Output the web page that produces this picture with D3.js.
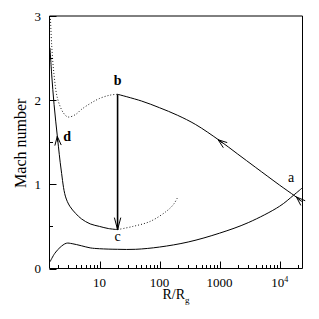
<!DOCTYPE html>
<html>
<head>
<meta charset="utf-8">
<script src="https://cdn.jsdelivr.net/npm/d3@7"></script>
<style>
  html, body { margin: 0; padding: 0; background: #fff; }
  svg { display: block; }
  .lbl { font-family: "Liberation Serif", "DejaVu Serif", serif; fill: #000; }
</style>
</head>
<body>
<div id="chart"></div>
<script>
// lower solid branch (a -> disc, subsonic)
const lowR = [1.5, 1.8, 2.2, 2.8, 3.5, 5, 7, 10, 20, 40, 100, 300, 1000, 3000, 10000, 17000, 24000];
const lowM = [0.08, 0.18, 0.25, 0.30, 0.295, 0.27, 0.245, 0.235, 0.228, 0.228, 0.255, 0.315, 0.42, 0.545, 0.74, 0.87, 0.96];

// upper solid branch a -> b
const upR = [20, 50, 100, 200, 400, 1000, 2000, 4000, 10000, 18000, 24000];
const upM = [2.07, 1.99, 1.91, 1.82, 1.71, 1.52, 1.36, 1.20, 0.99, 0.86, 0.79];

// dotted continuation left of b
const dotUpR = [1.52, 1.6, 1.75, 2, 2.5, 3, 4, 5, 7, 10, 15, 20];
const dotUpM = [3.0, 2.65, 2.3, 2.02, 1.85, 1.80, 1.83, 1.89, 1.96, 2.02, 2.06, 2.07];

// branch c -> d
const dR = [1.5, 1.6, 1.75, 2, 2.3, 2.7, 3.2, 4, 5, 7, 10, 14, 20];
const dM = [2.62, 2.3, 1.95, 1.55, 1.17, 0.86, 0.74, 0.655, 0.59, 0.53, 0.50, 0.475, 0.462];

// dotted continuation right of c
const dotCR = [20, 36, 70, 130, 170, 200];
const dotCM = [0.462, 0.50, 0.56, 0.68, 0.76, 0.845];

// shock b -> c
const shockR = [20, 20];
const shockM = [2.07, 0.462];

// arrows: tip and a point behind it
const arrowTipR = [20, 1.98, 944, 19000];
const arrowTipM = [0.462, 1.57, 1.53, 0.85];
const arrowBackR = [20, 2.1, 1300, 23000];
const arrowBackM = [1.0, 1.36, 1.455, 0.795];

const pointLabels = ["a", "b", "c", "d"];
const labelR = [15500, 20, 20, 2.9];
const labelM = [1.03, 2.18, 0.33, 1.52];

const xMajor = [10, 100, 1000, 10000];
const yMajor = [0, 1, 2, 3];
const yMinor = [0.5, 1.5, 2.5];

const W = 319, H = 319;
const pLeft = 49.5, pRight = 302.5, pTop = 16, pBottom = 268.5;

const svg = d3.select("#chart").append("svg")
    .attr("width", W)
    .attr("height", H);

const x = d3.scaleLog().domain([1.47, 2.4e4]).range([pLeft, pRight]);
const y = d3.scaleLinear().domain([0, 3]).range([pBottom, pTop]);

const line = d3.line()
    .x(d => x(d[0]))
    .y(d => y(d[1]))
    .curve(d3.curveCatmullRom.alpha(0.5));

const zip = (a, b) => a.map((v, i) => [v, b[i]]);

// frame
svg.append("line").attr("x1", pLeft).attr("x2", pRight).attr("y1", 16).attr("y2", 16)
    .attr("stroke", "#000").attr("stroke-width", 1);
svg.append("line").attr("x1", pLeft).attr("x2", pLeft).attr("y1", pTop).attr("y2", pBottom)
    .attr("stroke", "#000");
svg.append("line").attr("x1", pRight).attr("x2", pRight).attr("y1", pTop).attr("y2", pBottom)
    .attr("stroke", "#000");
svg.append("line").attr("x1", pLeft).attr("x2", pRight).attr("y1", pBottom).attr("y2", pBottom)
    .attr("stroke", "#000");

// x ticks
const isMajor = v => Math.abs(Math.log10(v) - Math.round(Math.log10(v))) < 1e-6;
x.ticks().filter(v => v >= 1.47 && v <= 2.4e4).forEach(v => {
    const len = isMajor(v) ? 7 : 3.5;
    const px = Math.round(x(v)) + 0.5;
    svg.append("line")
        .attr("x1", px).attr("x2", px)
        .attr("y1", pBottom).attr("y2", pBottom - len)
        .attr("stroke", "#000");
});

xMajor.forEach(v => {
    const t = svg.append("text").attr("class", "lbl")
        .attr("x", x(v)).attr("y", 287)
        .attr("text-anchor", "middle")
        .style("font-size", "13px");
    if (v === 10000) {
        t.append("tspan").text("10");
        t.append("tspan").attr("dy", -5).style("font-size", "8px").text("4");
    } else {
        t.text(String(v));
    }
});

// y ticks
yMajor.forEach(v => {
    const py = Math.round(y(v)) + 0.5;
    svg.append("line").attr("x1", pLeft).attr("x2", pLeft + 7)
        .attr("y1", py).attr("y2", py).attr("stroke", "#000");
    svg.append("text").attr("class", "lbl")
        .attr("x", 41).attr("y", y(v) + 4.5)
        .attr("text-anchor", "end")
        .style("font-size", "13px")
        .text(v);
});
yMinor.forEach(v => {
    const py = Math.round(y(v)) + 0.5;
    svg.append("line").attr("x1", pLeft).attr("x2", pLeft + 3.5)
        .attr("y1", py).attr("y2", py).attr("stroke", "#000");
});

// axis titles
const xt = svg.append("text").attr("class", "lbl")
    .attr("x", (pLeft + pRight) / 2).attr("y", 299)
    .attr("text-anchor", "middle")
    .style("font-size", "14px");
xt.append("tspan").text("R/R");
xt.append("tspan").attr("dy", 4).style("font-size", "9px").text("g");

svg.append("text").attr("class", "lbl")
    .attr("transform", `translate(26,${(pTop + pBottom) / 2 + 1}) rotate(-90)`)
    .attr("text-anchor", "middle")
    .style("font-size", "16px")
    .text("Mach number");

// curves
const g = svg.append("g").attr("fill", "none");

g.append("path").attr("d", line(zip(lowR, lowM)))
    .attr("stroke", "#000").attr("stroke-width", 1);
g.append("path").attr("d", line(zip(upR, upM)))
    .attr("stroke", "#000").attr("stroke-width", 1);
g.append("path").attr("d", line(zip(dR, dM)))
    .attr("stroke", "#000").attr("stroke-width", 1);
g.append("path").attr("d", line(zip(dotUpR, dotUpM)))
    .attr("stroke", "#000").attr("stroke-width", 0.9)
    .attr("stroke-dasharray", "1,2");
g.append("path").attr("d", line(zip(dotCR, dotCM)))
    .attr("stroke", "#000").attr("stroke-width", 0.9)
    .attr("stroke-dasharray", "1,2");
g.append("path").attr("d", d3.line().x(d => x(d[0])).y(d => y(d[1]))(zip(shockR, shockM)))
    .attr("stroke", "#000").attr("stroke-width", 1.6);

// arrowheads
arrowTipR.forEach((r, i) => {
    const tx = x(r), ty = y(arrowTipM[i]);
    const bx = x(arrowBackR[i]), by = y(arrowBackM[i]);
    let ux = tx - bx, uy = ty - by;
    const n = Math.hypot(ux, uy);
    ux /= n; uy /= n;
    const len = i === 0 ? 12 : 9, half = 3.2;
    const p1 = [tx - ux * len - uy * half, ty - uy * len + ux * half];
    const p2 = [tx - ux * len + uy * half, ty - uy * len - ux * half];
    const mid = [tx - ux * len * 0.6, ty - uy * len * 0.6];
    g.append("path")
        .attr("d", `M${p1[0]},${p1[1]}L${tx},${ty}L${p2[0]},${p2[1]}M${mid[0]},${mid[1]}L${tx},${ty}`)
        .attr("stroke", "#000").attr("stroke-width", 1);
});

// point labels
pointLabels.forEach((s, i) => {
    svg.append("text").attr("class", "lbl")
        .attr("x", x(labelR[i])).attr("y", y(labelM[i]))
        .attr("text-anchor", "middle")
        .style("font-size", "14px")
        .style("font-weight", s === "b" || s === "d" ? "bold" : "normal")
        .text(s);
});
</script>
</body>
</html>
